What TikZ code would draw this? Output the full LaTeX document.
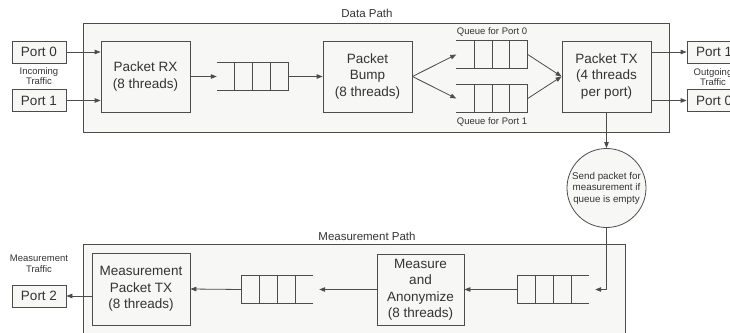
\documentclass[tikz,border=0pt]{standalone}
\usepackage{fontspec}
\setmainfont{Liberation Sans}
\usetikzlibrary{arrows.meta,calc}
\definecolor{edge}{HTML}{4C4C4C}
\definecolor{ink}{HTML}{333333}
\definecolor{panel}{HTML}{F7F7F6}

% a queue drawn over a named (invisible) slot node; one end is left open
\newcommand\queueopenleft[1]{%
  \draw[qline] (#1.north west) -- (#1.north east) -- (#1.south east) -- (#1.south west);
  \foreach \k in {1,2,3}
    \draw[qline] ($(#1.north west)!\k/4!(#1.north east)$) -- ($(#1.south west)!\k/4!(#1.south east)$);}
\newcommand\queueopenright[1]{%
  \draw[qline] (#1.north east) -- (#1.north west) -- (#1.south west) -- (#1.south east);
  \foreach \k in {1,2,3}
    \draw[qline] ($(#1.north west)!\k/4!(#1.north east)$) -- ($(#1.south west)!\k/4!(#1.south east)$);}

\begin{document}
\begin{tikzpicture}[x=1pt,y=-1pt,
  every node/.style={text=ink},
  proc/.style={draw=edge, fill=panel, line width=0.8pt, minimum width=89pt,
    minimum height=71pt, align=center, inner sep=0pt,
    font=\fontsize{13.5}{16.5}\selectfont},
  port/.style={draw=edge, fill=panel, line width=0.8pt, minimum width=54pt,
    minimum height=22pt, inner sep=0pt, font=\fontsize{13.5}{16}\selectfont},
  lane/.style={draw=edge, fill=panel, line width=0.8pt},
  qslot/.style={minimum width=71pt, minimum height=27pt, inner sep=0pt},
  qline/.style={draw=edge, line width=0.8pt},
  note/.style={font=\fontsize{9.5}{10.5}\selectfont, align=center, inner sep=0pt},
  title/.style={font=\fontsize{11.5}{13}\selectfont, inner sep=0pt},
  flow/.style={draw=edge, line width=0.8pt, -{Triangle[length=6pt,width=4.5pt]}},
]
\useasboundingbox (0,0) rectangle (730,332);
\clip (0,0) rectangle (730,332);

% containers
\draw[lane] (83,23) rectangle (669,132);
\draw[lane] (83,244) rectangle (625,345);
\node[title] (dptitle) at (367,13) {Data Path};
\node[title] (mptitle) at (367,236) {Measurement Path};

% data path
\node[port] (in0) at (39,52) {Port 0};
\node[port] (in1) at (39,100.5) {Port 1};
\node[note] (intxt) at (39,76) {Incoming\\Traffic};
\node[proc] (rx) at (145.5,76.5) {Packet RX\\(8 threads)};
\node[qslot] (q1) at (252.5,76.5) {};
\queueopenleft{q1}
\node[proc] (bump) at (367.5,76.5) {Packet\\Bump\\(8 threads)};
\node[qslot] (qa) at (492,54.5) {};
\node[qslot] (qb) at (492,98.5) {};
\queueopenleft{qa}
\queueopenleft{qb}
\node[note] (qatxt) at (492,32) {Queue for Port 0};
\node[note] (qbtxt) at (492,121.5) {Queue for Port 1};
\node[proc] (tx) at (606.5,76.5) {Packet TX\\(4 threads\\per port)};
\node[port] (out1) at (714,52) {Port 1};
\node[port] (out0) at (714,100.5) {Port 0};
\node[note] (outtxt) at (713,77) {Outgoing\\Traffic};

% check between the two paths
\node[circle, draw=edge, fill=panel, line width=0.8pt, minimum size=79pt,
  inner sep=0pt, align=center, font=\fontsize{9.8}{11.5}\selectfont]
  (chk) at (606.5,188) {Send packet for\\measurement if\\queue is empty};

% measurement path
\node[qslot] (q3) at (553.5,289.5) {};
\queueopenright{q3}
\node[proc, minimum width=87pt] (ma) at (420.5,289.5) {Measure\\and\\Anonymize\\(8 threads)};
\node[qslot] (q4) at (277.5,289.5) {};
\queueopenright{q4}
\node[proc, minimum width=98pt, minimum height=72pt] (mtx) at (141,289) {Measurement\\Packet TX\\(8 threads)};
\node[port] (port2) at (39,296) {Port 2};
\node[note] (mtxt) at (39,264) {Measurement\\Traffic};

% connectors
\draw[flow] (in0.east) -- (in0.east -| rx.west);
\draw[flow] (in1.east) -- (in1.east -| rx.west);
\draw[flow] (rx.east) -- (q1.west);
\draw[flow] (q1.east) -- (bump.west);
\draw[flow] (bump.east) -- (qa.west);
\draw[flow] (bump.east) -- (qb.west);
\draw[flow] (qa.east) -- (tx.west);
\draw[flow] (qb.east) -- (tx.west);
\draw[flow] (tx.east |- out1) -- (out1.west);
\draw[flow] (tx.east |- out0) -- (out0.west);
\draw[flow] (tx.south) -- (chk.north);
\draw[flow, shorten >=6pt] (chk.south) |- (q3.east);
\draw[flow] (q3.west) -- (ma.east);
\draw[flow, shorten >=6pt] (ma.west) -- (q4.east);
\draw[flow] (q4.west) -- (mtx.east);
\draw[flow] (mtx.west |- port2) -- (port2.east);
\end{tikzpicture}
\end{document}
